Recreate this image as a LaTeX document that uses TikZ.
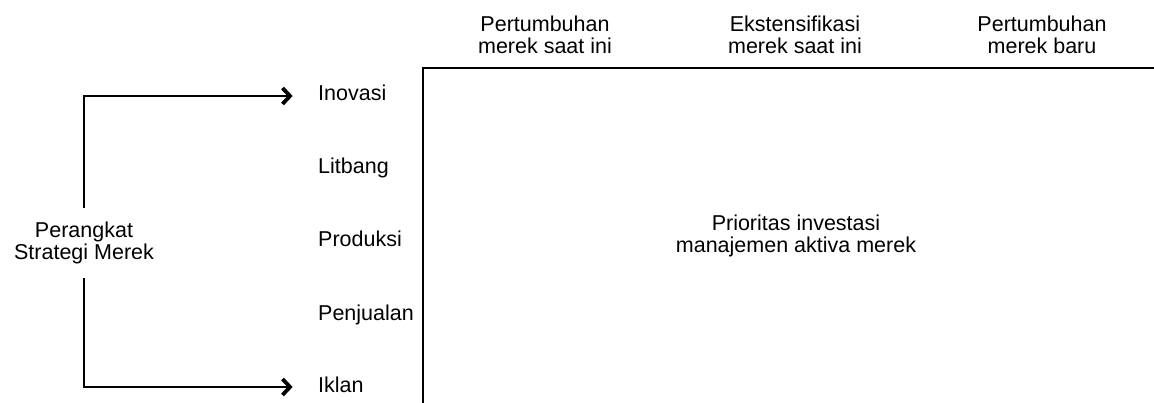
\documentclass[tikz,border=0pt]{standalone}
\usepackage{fontspec}
\setmainfont{Liberation Sans}
\begin{document}
\begin{tikzpicture}[x=1pt,y=-1pt,
  every node/.style={inner sep=0pt, font=\fontsize{21.5}{22.5}\selectfont},
  head/.style={align=center},
  item/.style={anchor=west, text height=15pt, text depth=5pt},
  frame/.style={line width=1.7pt},
  link/.style={line width=1.1pt},
  chevron/.style={line width=3.8pt, line join=miter, line cap=butt}]
  \useasboundingbox (0,0) rectangle (1154,403);

  % column headers
  \node[head] (h1) at (545,35) {Pertumbuhan\\merek saat ini};
  \node[head] (h2) at (795,35) {Ekstensifikasi\\merek saat ini};
  \node[head] (h3) at (1042,35) {Pertumbuhan\\merek baru};

  % matrix frame
  \draw[frame] (423,403) -- (423,68) -- (1154,68);

  % row labels
  \node[item] (ino) at (318,96)  {Inovasi};
  \node[item] (lit) at (318,169) {Litbang};
  \node[item] (pro) at (318,242) {Produksi};
  \node[item] (pen) at (318,315) {Penjualan};
  \node[item] (ikl) at (318,387) {Iklan};

  % arrow tips in front of the first and last label
  \coordinate (tipA) at ([xshift=-28pt]ino.west);
  \coordinate (tipB) at ([xshift=-28pt]ikl.west);

  % source of the tool kit
  \node[align=center, minimum height=70pt] (src) at (84,243) {Perangkat\\Strategi Merek};
  \draw[link] (src.north) |- (tipA);
  \draw[link] (src.south) |- (tipB);
  \draw[chevron] ([xshift=-7.5pt,yshift=8pt]tipA) -- (tipA) -- ([xshift=-7.5pt,yshift=-8pt]tipA);
  \draw[chevron] ([xshift=-7.5pt,yshift=8pt]tipB) -- (tipB) -- ([xshift=-7.5pt,yshift=-8pt]tipB);

  % central text
  \node[align=center] (mid) at (796,236) {Prioritas investasi\\manajemen aktiva merek};
\end{tikzpicture}
\end{document}
